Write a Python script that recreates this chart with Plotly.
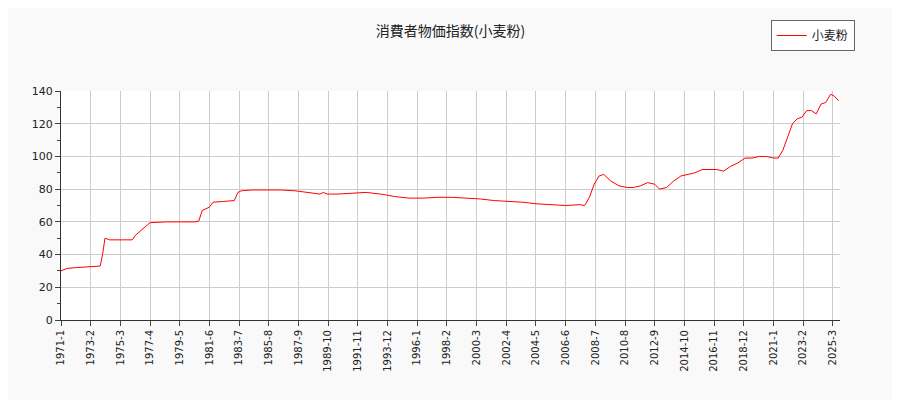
import plotly.graph_objects as go

dates = ["1971-01","1971-06","1972-01","1972-12","1973-06","1973-10","1973-12","1974-02","1974-06","1975-01","1976-01","1976-04","1976-10","1977-04","1978-06","1979-06","1980-06","1980-09","1980-12","1981-06","1981-09","1982-06","1983-03","1983-06","1983-09","1984-06","1985-06","1986-06","1987-06","1988-06","1989-03","1989-06","1989-09","1990-06","1991-06","1992-06","1993-06","1994-06","1995-06","1996-06","1997-06","1998-06","1999-06","2000-06","2001-06","2002-06","2003-06","2004-06","2005-06","2006-06","2007-06","2007-10","2008-02","2008-06","2008-10","2009-02","2009-08","2010-03","2010-10","2011-03","2011-09","2012-03","2012-09","2013-01","2013-07","2014-01","2014-07","2015-01","2015-07","2016-01","2016-07","2017-01","2017-07","2018-01","2018-07","2019-01","2019-07","2020-01","2020-07","2021-01","2021-05","2021-09","2022-01","2022-05","2022-09","2023-01","2023-05","2023-09","2024-01","2024-05","2024-09","2025-01","2025-04","2025-08"]
values = [30,31.5,32,32.5,32.5,33,40,50,49,49,49,52,56,59.5,60,60,60,60.5,67,69,72,72.5,73,78,79,79.5,79.5,79.5,79,78,77,78,77,77,77.5,78,77,75.5,74.5,74.5,75,75,74.5,74,73,72.5,72,71,70.5,70,70.5,70,75,83,88,89,85,82,81,81,82,84,83,80,81,85,88,89,90,92,92,92,91,94,96,99,99,100,100,99,99,104,112,120,123,124,128,128,126,132,133,138,137,134]

tick_vals = ["1971-01","1973-02","1975-03","1977-04","1979-05","1981-06","1983-07","1985-08","1987-09","1989-10","1991-11","1993-12","1996-01","1998-02","2000-03","2002-04","2004-05","2006-06","2008-07","2010-08","2012-09","2014-10","2016-11","2018-12","2021-01","2023-02","2025-03"]
tick_text = ["1971-1","1973-2","1975-3","1977-4","1979-5","1981-6","1983-7","1985-8","1987-9","1989-10","1991-11","1993-12","1996-1","1998-2","2000-3","2002-4","2004-5","2006-6","2008-7","2010-8","2012-9","2014-10","2016-11","2018-12","2021-1","2023-2","2025-3"]

fig = go.Figure(go.Scatter(x=dates, y=values, mode="lines", name="小麦粉",
                           line=dict(color="red", width=1)))
font = "DejaVu Sans, Noto Sans CJK JP"
fig.update_layout(
    width=900, height=400, paper_bgcolor="#f9f9f9", plot_bgcolor="white",
    margin=dict(l=53, r=68, t=72, b=88),
    title=dict(text="消費者物価指数(小麦粉)", x=0.5, xref="paper", y=0.955, xanchor="center",
               font=dict(family="Noto Sans CJK JP", size=14, color="#222")),
    font=dict(family=font, size=11, color="#222"),
    showlegend=True,
    legend=dict(x=1.019, y=1.31, xanchor="right", yanchor="top", bgcolor="white",
                bordercolor="#666", borderwidth=1, font=dict(family="Noto Sans CJK JP", size=12)),
    xaxis=dict(range=["1971-01","2025-09"], tickvals=tick_vals, ticktext=tick_text,
               tickangle=-90, showgrid=True, gridcolor="#ccc", ticks="outside",
               showline=True, linecolor="#333", tickfont=dict(size=10)),
    yaxis=dict(range=[0,140], dtick=20, showgrid=True, gridcolor="#ccc",
               ticks="outside", showline=True, linecolor="#333", minor=dict(ticks="outside", dtick=10),
               tickfont=dict(size=11)),
)
fig.write_html("out.html")
